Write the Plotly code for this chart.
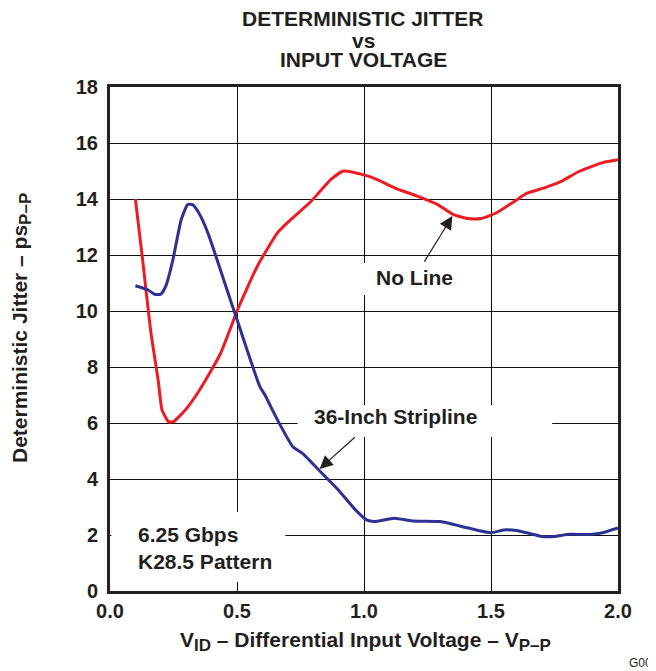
import plotly.graph_objects as go

# ---- data ----
no_line_x = [0.10, 0.13, 0.16, 0.19, 0.205, 0.23, 0.25, 0.30, 0.345, 0.40, 0.436, 0.475, 0.50,
             0.58, 0.66, 0.71, 0.79, 0.87, 0.92, 1.00, 1.05, 1.12, 1.21, 1.29, 1.35, 1.41,
             1.46, 1.52, 1.59, 1.64, 1.71, 1.77, 1.85, 1.94, 2.00]
no_line_y = [14.0, 11.7, 9.3, 7.5, 6.46, 6.05, 6.05, 6.5, 7.07, 7.9, 8.5, 9.4, 10.0,
             11.6, 12.8, 13.25, 13.9, 14.7, 15.0, 14.86, 14.7, 14.4, 14.1, 13.8, 13.45, 13.3,
             13.3, 13.5, 13.9, 14.2, 14.4, 14.6, 15.0, 15.3, 15.4]

stripline_x = [0.10, 0.15, 0.175, 0.20, 0.22, 0.247, 0.28, 0.306, 0.325, 0.35, 0.385, 0.43,
               0.47, 0.50, 0.54, 0.59, 0.61, 0.66, 0.72, 0.76, 0.83, 0.90, 0.96, 1.01, 1.04,
               1.12, 1.19, 1.30, 1.41, 1.50, 1.55, 1.60, 1.64, 1.70, 1.75, 1.80, 1.89, 1.94, 2.00]
stripline_y = [10.9, 10.75, 10.6, 10.6, 10.9, 11.8, 13.25, 13.8, 13.8, 13.5, 12.8, 11.6,
               10.5, 9.7, 8.6, 7.3, 7.0, 6.1, 5.15, 4.9, 4.25, 3.6, 2.96, 2.54, 2.48,
               2.6, 2.5, 2.48, 2.25, 2.08, 2.18, 2.16, 2.08, 1.95, 1.95, 2.02, 2.02, 2.08, 2.25]

x_ticks = [0.0, 0.5, 1.0, 1.5, 2.0]
x_tick_labels = ["0.0", "0.5", "1.0", "1.5", "2.0"]
y_ticks = [0, 2, 4, 6, 8, 10, 12, 14, 16, 18]

FONT = "Liberation Sans, Arial, Helvetica, sans-serif"
INK = "#231F20"
RED = "#ED1C24"
BLUE = "#2E3192"

# page has an 8px body margin, so the figure is placed at (8, 8)
W, H = 648, 663
ML, MR, MT, MB = 102, 38, 79, 80
PW = W - ML - MR
PH = H - MT - MB


def px(page_x):
    return (page_x - 8 - ML) / PW


def py(page_y):
    return (MT + PH - (page_y - 8)) / PH


fig = go.Figure()
fig.add_trace(go.Scatter(x=no_line_x, y=no_line_y, mode="lines", name="No Line",
                         line=dict(color=RED, width=3, shape="spline", smoothing=0.5)))
fig.add_trace(go.Scatter(x=stripline_x, y=stripline_y, mode="lines", name="36-Inch Stripline",
                         line=dict(color=BLUE, width=3, shape="spline", smoothing=0.5)))

# white boxes that interrupt the grid behind the labels
for x0, x1, y0, y1 in [(0.986, 1.418, 10.57, 11.71), (0.739, 1.741, 5.5, 6.64), (0.005, 0.69, 0.32, 2.82)]:
    fig.add_shape(type="rect", xref="x", yref="y", x0=x0, x1=x1, y0=y0, y1=y1,
                  fillcolor="white", line=dict(width=0), layer="between")

lab_font = dict(family=FONT, size=21, color=INK)
fig.add_annotation(x=1.198, y=11.21, xref="x", yref="y", text="<b>No Line</b>",
                   showarrow=False, font=lab_font)
fig.add_annotation(x=1.124, y=6.25, xref="x", yref="y", text="<b>36-Inch Stripline</b>",
                   showarrow=False, font=lab_font)
fig.add_annotation(x=0.102, y=1.55, xref="x", yref="y", xanchor="left", align="left",
                   text="<b>6.25 Gbps<br>K28.5 Pattern</b>", showarrow=False, font=lab_font)

# arrows
fig.add_annotation(x=1.348, y=13.39, ax=1.234, ay=11.71, xref="x", yref="y", axref="x", ayref="y",
                   text="", showarrow=True, arrowhead=2, arrowsize=2.2, arrowwidth=1.2,
                   arrowcolor=INK, standoff=0)
fig.add_annotation(x=0.825, y=4.36, ax=0.97, ay=5.54, xref="x", yref="y", axref="x", ayref="y",
                   text="", showarrow=True, arrowhead=2, arrowsize=2.2, arrowwidth=1.2,
                   arrowcolor=INK, standoff=0)

# title lines
title_font = dict(family=FONT, size=21, color=INK)
for txt, cy in [("<b>DETERMINISTIC JITTER</b>", 18.5), ("<b>vs</b>", 40), ("<b>INPUT VOLTAGE</b>", 60)]:
    fig.add_annotation(x=px(363), y=py(cy), xref="paper", yref="paper", text=txt,
                       showarrow=False, font=title_font, yanchor="middle", borderpad=0)

# axis titles
SUB = '<sub><span style="font-size:17px">%s</span></sub>'
fig.add_annotation(x=px(365), y=py(641), xref="paper", yref="paper",
                   text="<b>V" + SUB % "ID" + " – Differential Input Voltage – V" + SUB % "P–P" + "</b>",
                   showarrow=False, font=dict(family=FONT, size=21, color=INK), yanchor="middle")
fig.add_annotation(x=px(21), y=py(328), xref="paper", yref="paper", textangle=-90,
                   text="<b>Deterministic Jitter – ps" + SUB % "P–P" + "</b>",
                   showarrow=False, font=dict(family=FONT, size=21, color=INK),
                   xanchor="center", yanchor="middle", borderpad=0)

fig.add_annotation(x=px(627), y=py(654), xref="paper", yref="paper",
                   text="G007", showarrow=False, xanchor="left", yanchor="top",
                   font=dict(family=FONT, size=12, color=INK))

axis_common = dict(showgrid=True, gridcolor="#111111", gridwidth=1, showline=True, mirror=True,
                   linecolor="#222222", linewidth=3, zeroline=False, automargin=False,
                   tickfont=dict(family=FONT, size=20, color=INK))

fig.update_xaxes(range=[0, 2], tickvals=x_ticks, ticktext=["<b>%s</b>" % t for t in x_tick_labels],
                 ticks="", **axis_common)
fig.update_yaxes(range=[0, 18], tickvals=y_ticks, ticktext=["<b>%d</b>" % t for t in y_ticks],
                 ticks="outside", ticklen=5, tickcolor="white", **axis_common)

fig.update_layout(width=W, height=H, margin=dict(l=ML, r=MR, t=MT, b=MB, autoexpand=False),
                  paper_bgcolor="white", plot_bgcolor="white", showlegend=False)

fig.write_html("out.html")
